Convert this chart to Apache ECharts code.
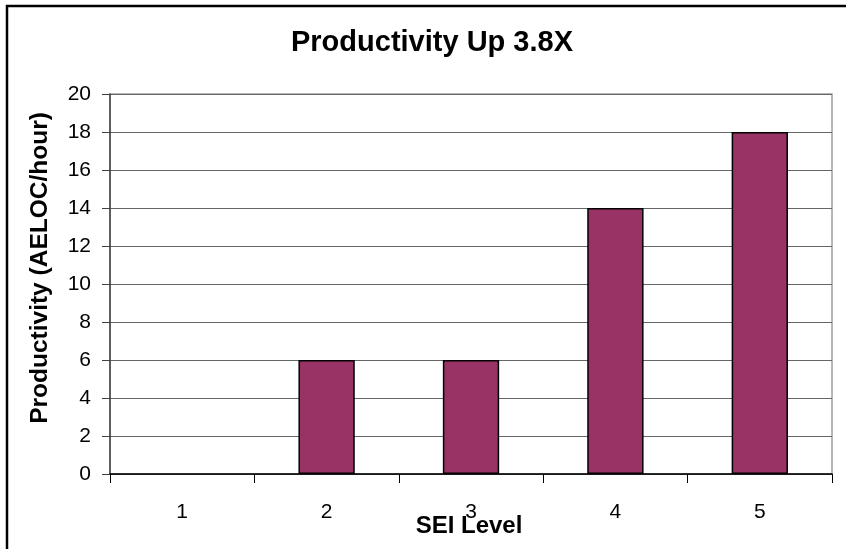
<!DOCTYPE html>
<html>
<head>
<meta charset="utf-8">
<style>
  html, body { margin: 0; padding: 0; background: #ffffff; }
  #chart { width: 846px; height: 549px; }
</style>
<script src="https://cdn.jsdelivr.net/npm/echarts@6/dist/echarts.min.js"></script>
</head>
<body>
<div id="chart"></div>
<script>
// SEI maturity levels and measured productivity (AELOC per hour)
const levels = ['1', '2', '3', '4', '5'];
const productivity = [null, 6, 6, 14, 18];
const yTicks = { min: 0, max: 20, interval: 2 };

const titleText = 'Productivity Up 3.8X';
const yName = 'Productivity (AELOC/hour)';
const xName = 'SEI Level';

const FONT = '"Liberation Sans", Arial, sans-serif';

const chart = echarts.init(document.getElementById('chart'), null, { renderer: 'canvas' });

chart.setOption({
  animation: false,
  backgroundColor: '#ffffff',
  graphic: [
    {
      type: 'rect',
      shape: { x: 7, y: 6, width: 900, height: 700 },
      style: { fill: 'none', stroke: '#000000', lineWidth: 2.5 },
      silent: true
    },
    {
      type: 'text',
      x: 432, y: 43,
      style: {
        text: titleText, fill: '#000', font: 'bold 29px ' + FONT,
        textAlign: 'center', textVerticalAlign: 'middle'
      }
    },
    {
      type: 'text',
      x: 40, y: 268,
      rotation: Math.PI / 2,
      style: {
        text: yName, fill: '#000', font: 'bold 24.5px ' + FONT,
        textAlign: 'center', textVerticalAlign: 'middle'
      }
    },
    {
      type: 'text',
      x: 469, y: 526,
      style: {
        text: xName, fill: '#000', font: 'bold 24px ' + FONT,
        textAlign: 'center', textVerticalAlign: 'middle'
      }
    }
  ],
  grid: {
    left: 110, top: 94, right: 14, bottom: 75,
    show: true, borderColor: '#a0a0a0', borderWidth: 1.5,
    backgroundColor: '#ffffff'
  },
  xAxis: {
    type: 'category',
    data: levels,
    axisLine: { lineStyle: { color: '#000000', width: 1.5 } },
    axisTick: { show: true, length: 9, lineStyle: { color: '#000000', width: 1 } },
    axisLabel: { color: '#000', fontSize: 21, fontFamily: FONT, margin: 28 },
    splitLine: { show: false }
  },
  yAxis: {
    type: 'value',
    min: yTicks.min, max: yTicks.max, interval: yTicks.interval,
    axisLine: { show: true, lineStyle: { color: '#404040', width: 1.5 } },
    axisTick: { show: true, length: 8, lineStyle: { color: '#404040', width: 1 } },
    axisLabel: { color: '#000', fontSize: 21, fontFamily: FONT, margin: 19 },
    splitLine: { show: true, lineStyle: { color: '#666666', width: 1.2 } }
  },
  series: [{
    type: 'bar',
    data: productivity,
    barWidth: '39%',
    itemStyle: { color: '#993366', borderColor: '#000000', borderWidth: 1.5 }
  }]
});
</script>
</body>
</html>
